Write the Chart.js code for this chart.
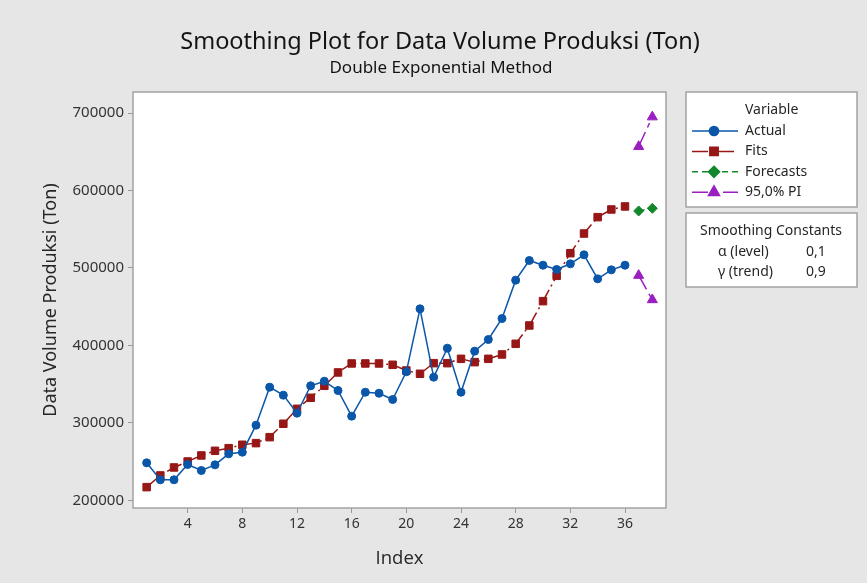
<!DOCTYPE html>
<html>
<head>
<meta charset="utf-8">
<script src="https://cdn.jsdelivr.net/npm/chart.js@4.4.1/dist/chart.umd.min.js"></script>
<style>
  html, body { margin: 0; padding: 0; background: #e6e6e6; }
  canvas { display: block; }
</style>
</head>
<body>
<canvas id="smoothing-chart" width="867" height="583"></canvas>
<script>
const actual = [
  248600, 226700, 226700, 246400, 238700, 246000, 260200, 262300, 297200,
  346200, 335900, 312700, 348000, 353900, 341900, 308800, 339700, 338400,
  330300, 366000, 447300, 359100, 396500, 339700, 392700, 407700, 434800,
  484300, 509700, 503600, 498100, 505400, 517000, 486000, 497600, 503600,
];
const fits = [
  217200, 232300, 242600, 250300, 258100, 264100, 267500, 271900, 274000,
  281700, 299000, 318300, 332500, 348000, 365200, 376800, 376800, 376800,
  375100, 367700, 363500, 377200, 377200, 382800, 378500, 382800, 388400,
  402200, 425800, 457200, 489900, 519100, 544500, 565600, 575500, 579400,
];
const forecastIndex = [37, 38];
const forecasts = [573600, 577000];
const piUpper = [656700, 694900];
const piLower = [490400, 459000];

const xTicks = [4, 8, 12, 16, 20, 24, 28, 32, 36];
const yTicks = [200000, 300000, 400000, 500000, 600000, 700000];

const constants = [
  ['\u03b1 (level)', '0,1'],
  ['\u03b3 (trend)', '0,9'],
];

const FONT = '"Noto Sans", "Open Sans", sans-serif';
const blue = '#0a56a8';
const red = '#971616';
const green = '#13872b';
const purple = '#9a1ec0';

const toPoints = (xs, ys) => ys.map((y, i) => ({ x: xs[i], y }));
const seriesIndex = actual.map((_, i) => i + 1);

const series = [
  { label: 'Actual', color: blue, style: 'circle', radius: 4, dash: [] },
  { label: 'Fits', color: red, style: 'rect', radius: 5.3, dash: [16, 4, 2, 4] },
  { label: 'Forecasts', color: green, style: 'rectRot', radius: 5, dash: [6, 4] },
  { label: '95,0% PI', color: purple, style: 'triangle', radius: 5.8, dash: [16, 5, 5, 5] },
];

const makeSet = (s, data) => ({
  label: s.label,
  data,
  borderColor: s.color,
  backgroundColor: s.color,
  pointBackgroundColor: s.color,
  pointBorderColor: s.color,
  pointStyle: s.style,
  pointRadius: s.radius,
  pointBorderWidth: 1,
  borderWidth: 1.5,
  borderDash: s.dash,
  tension: 0,
});

const frame = {
  id: 'frame',
  beforeDraw(chart) {
    const { ctx, chartArea: a } = chart;
    ctx.save();
    ctx.fillStyle = '#e6e6e6';
    ctx.fillRect(0, 0, chart.width, chart.height);
    ctx.fillStyle = '#ffffff';
    ctx.fillRect(a.left, a.top, a.right - a.left, a.bottom - a.top);
    ctx.restore();
  },
  afterDraw(chart) {
    const { ctx, chartArea: a } = chart;
    ctx.save();
    ctx.strokeStyle = '#a3a3a3';
    ctx.lineWidth = 1.5;
    ctx.strokeRect(a.left, a.top, a.right - a.left, a.bottom - a.top);

    // titles
    ctx.fillStyle = '#141414';
    ctx.textAlign = 'center';
    ctx.textBaseline = 'middle';
    ctx.font = '23.5px ' + FONT;
    ctx.fillText('Smoothing Plot for Data Volume Produksi (Ton)', 440, 42);
    ctx.font = '17px ' + FONT;
    ctx.fillText('Double Exponential Method', 441, 68);

    ctx.fillStyle = '#262626';
    ctx.font = '18.5px "Open Sans", "Noto Sans", sans-serif';
    ctx.fillText('Index', (a.left + a.right) / 2, 559);
    ctx.save();
    ctx.translate(51, (a.top + a.bottom) / 2);
    ctx.rotate(-Math.PI / 2);
    ctx.font = '18px ' + FONT;
    ctx.fillText('Data Volume Produksi (Ton)', 0, 0);
    ctx.restore();

    // legend boxes
    ctx.fillStyle = '#ffffff';
    ctx.strokeStyle = '#a3a3a3';
    ctx.lineWidth = 1.5;
    ctx.fillRect(686, 92, 171, 115);
    ctx.strokeRect(686, 92, 171, 115);
    ctx.fillRect(686, 213, 171, 74);
    ctx.strokeRect(686, 213, 171, 74);

    ctx.fillStyle = '#262626';
    ctx.textAlign = 'left';
    ctx.font = '14px ' + FONT;
    ctx.fillText('Variable', 745, 110);
    series.forEach((s, i) => {
      const y = 131 + i * 20.4;
      ctx.save();
      ctx.strokeStyle = s.color;
      ctx.fillStyle = s.color;
      ctx.lineWidth = 1.5;
      ctx.setLineDash(s.dash);
      ctx.beginPath();
      ctx.moveTo(692, y);
      ctx.lineTo(738, y);
      ctx.stroke();
      ctx.setLineDash([]);
      Chart.helpers.drawPoint(ctx, {
        pointStyle: s.style, radius: s.radius + 0.6, rotation: 0, borderWidth: 1,
      }, 714, y);
      ctx.restore();
      ctx.fillText(s.label, 745, y);
    });

    ctx.textAlign = 'center';
    ctx.fillText('Smoothing Constants', 771, 231);
    constants.forEach(([name, val], i) => {
      const y = 252 + i * 20.5;
      ctx.textAlign = 'left';
      ctx.fillText(name, 718, y);
      ctx.fillText(val, 806, y);
    });
    ctx.restore();
  },
};

const config = {
  type: 'line',
  data: {
    datasets: [
      makeSet(series[0], toPoints(seriesIndex, actual)),
      makeSet(series[1], toPoints(seriesIndex, fits)),
      makeSet(series[2], toPoints(forecastIndex, forecasts)),
      makeSet(series[3], toPoints(forecastIndex, piUpper)),
      makeSet(series[3], toPoints(forecastIndex, piLower)),
    ],
  },
  options: {
    responsive: false,
    animation: false,
    devicePixelRatio: 1,
    layout: {
      padding: { top: 92, right: 201, left: 0, bottom: 0 },
    },
    scales: {
      x: {
        type: 'linear',
        min: 0,
        max: 39,
        afterBuildTicks: (scale) => {
          scale.ticks = xTicks.map((v) => ({ value: v }));
        },
        afterFit: (scale) => {
          scale.height = 75;
        },
        border: { display: false },
        grid: {
          drawOnChartArea: false,
          drawTicks: true,
          tickLength: 5,
          color: '#9a9a9a',
        },
        ticks: {
          padding: 3,
          maxRotation: 0,
          color: '#333333',
          font: { family: FONT, size: 14 },
        },
      },
      y: {
        min: 190300,
        max: 727100,
        afterBuildTicks: (scale) => {
          scale.ticks = yTicks.map((v) => ({ value: v }));
        },
        afterFit: (scale) => {
          scale.width = 133;
        },
        border: { display: false },
        grid: {
          drawOnChartArea: false,
          drawTicks: true,
          tickLength: 5,
          color: '#9a9a9a',
        },
        ticks: {
          padding: 4,
          color: '#333333',
          font: { family: FONT, size: 15 },
          callback: (v) => String(v),
        },
      },
    },
    plugins: {
      legend: { display: false },
      title: { display: false },
      tooltip: { enabled: false },
    },
  },
  plugins: [frame],
};

const chart = new Chart(document.getElementById('smoothing-chart'), config);
if (document.fonts && document.fonts.ready) {
  document.fonts.ready.then(() => chart.draw());
}
</script>
</body>
</html>
